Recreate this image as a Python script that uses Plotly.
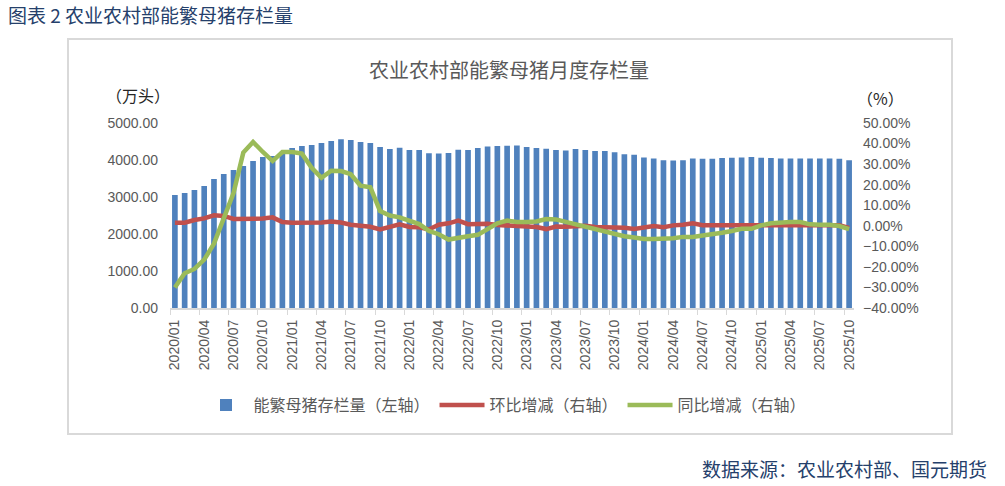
import plotly.graph_objects as go

# month labels 2020/01 .. 2025/10
months = []
for yr in range(2020, 2026):
    for m in range(1, 13):
        if yr == 2025 and m > 10:
            break
        months.append(f"{yr}/{m:02d}")

# 能繁母猪存栏量 (万头)
sows = [3054, 3108, 3189, 3297, 3486, 3622, 3730, 3838, 3973, 4081, 4108, 4161,
        4324, 4378, 4405, 4459, 4513, 4564, 4540, 4486, 4459, 4351, 4297, 4329,
        4270, 4270, 4185, 4177, 4192, 4277, 4270, 4324, 4362, 4379, 4384, 4390,
        4351, 4324, 4305, 4270, 4256, 4296, 4270, 4241, 4240, 4210, 4158, 4142,
        4067, 4042, 3992, 3986, 3996, 4038, 4033, 4036, 4054, 4058, 4067, 4080,
        4062, 4056, 4039, 4038, 4042, 4043, 4042, 4038, 4035, 3990]

# 环比增减 (%)
mom = [1.5, 1.5, 2.8, 3.6, 5.1, 4.8, 3.3, 3.3, 3.8, 3.5, 4.1, 1.8,
       1.5, 1.5, 1.2, 1.6, 2.1, 1.6, 0.5, -0.1, -0.5, -1.8, -0.4, 0.7,
       -0.6, -0.7, -1.8, 0.5, 1.2, 2.5, 0.8, 0.8, 1.0, 0.4, 0.2, 0.2,
       -0.5, -0.6, -1.6, -0.4, -0.5, -0.5, 0.0, -0.6, -0.7, -0.5, -1.0, -1.6,
       -1.0, -0.1, -0.7, 0.2, 0.5, 1.2, 0.3, 0.3, 0.5, 0.7, 0.5, 0.5,
       0.3, 0.2, 0.2, 0.2, 0.3, 0.5, 0.5, 0.5, 0.2, -1.0]

# 同比增减 (%)
yoy = [-30.0, -23.1, -21.0, -16.5, -8.7, 4.4, 15.9, 35.6, 40.8, 35.9, 31.5, 35.9,
       35.9, 35.1, 28.2, 23.3, 26.8, 26.6, 25.1, 19.5, 18.7, 7.2, 5.0, 4.1,
       2.5, 0.8, -2.5, -4.1, -6.7, -5.7, -5.1, -4.4, -1.5, 1.2, 2.5, 1.8,
       1.8, 2.1, 3.3, 3.1, 1.9, 0.8, -0.5, -1.8, -2.9, -4.1, -5.1, -5.7,
       -6.4, -6.4, -6.4, -6.1, -5.4, -5.4, -4.7, -4.2, -3.4, -2.5, -1.5, -1.5,
       0.2, 1.2, 1.7, 1.8, 1.8, 0.7, 0.5, 0.5, -0.1, -1.6]

cjk = "Noto Sans CJK SC"
gray = "#595959"
navy = "#25406b"

W, H = 1005, 486
PX0, PX1, PY0, PY1 = 170, 854, 123, 308   # plot area in pixels


def px(x):
    return (x - PX0) / (PX1 - PX0)


def py(y):
    return (PY1 - y) / (PY1 - PY0)


fig = go.Figure()
fig.add_trace(go.Bar(x=months, y=sows, name="能繁母猪存栏量（左轴）",
                     marker_color="#4f81bd", marker_line_width=0))
fig.add_trace(go.Scatter(x=months, y=mom, name="环比增减（右轴）", yaxis="y2",
                         mode="lines", line=dict(color="#c0504d", width=4.5)))
fig.add_trace(go.Scatter(x=months, y=yoy, name="同比增减（右轴）", yaxis="y2",
                         mode="lines", line=dict(color="#9bbb59", width=4.5)))

fig.update_layout(
    width=W, height=H,
    margin=dict(l=PX0, r=W - PX1, t=PY0, b=H - PY1, pad=0),
    paper_bgcolor="white", plot_bgcolor="white",
    bargap=0.42,
    showlegend=True,
    title=dict(text="图表 2 农业农村部能繁母猪存栏量", xref="container", yref="container",
               x=8 / W, y=1 - 16 / H, xanchor="left", yanchor="middle", pad=dict(l=0, t=0),
               font=dict(family=cjk, size=19, color=navy)),
    xaxis=dict(type="category", range=[-0.5, 69.5], tickangle=-90, dtick=3, tick0=0,
               tickson="boundaries", ticks="outside", ticklen=5, tickcolor="#d9d9d9",
               showline=True, linecolor="#d9d9d9", linewidth=2, showgrid=False,
               ticklabelstandoff=4,
               tickfont=dict(family="Liberation Sans", size=14, color=gray)),
    yaxis=dict(range=[0, 5000], dtick=1000, tickformat=".2f", showgrid=False,
               zeroline=False, ticklabelstandoff=11,
               tickfont=dict(family="Liberation Sans", size=14, color=gray)),
    yaxis2=dict(range=[-40, 50], dtick=10, tickformat=".2f", ticksuffix="%",
                overlaying="y", side="right", showgrid=False, zeroline=False,
                ticklabelstandoff=8,
                tickfont=dict(family="Liberation Sans", size=14, color=gray)),
    legend=dict(orientation="h", x=px(505), xanchor="center", y=py(405), yanchor="middle",
                itemwidth=45, font=dict(family=cjk, size=16, color=gray)),
)

# chart box
fig.add_shape(type="rect", xref="paper", yref="paper",
              x0=px(68), x1=px(952), y0=py(434), y1=py(39),
              line=dict(color="#d9d9d9", width=2), layer="below")

fig.add_annotation(text="农业农村部能繁母猪月度存栏量", xref="paper", yref="paper",
                   x=px(509), y=py(69), xanchor="center", yanchor="middle",
                   showarrow=False, font=dict(family=cjk, size=20, color=gray))
fig.add_annotation(text="（万头）", xref="paper", yref="paper",
                   x=px(104), y=py(95), xanchor="left", yanchor="middle",
                   showarrow=False, font=dict(family=cjk, size=16, color="#262626"))
fig.add_annotation(text="（%）", xref="paper", yref="paper",
                   x=px(855), y=py(98), xanchor="left", yanchor="middle",
                   showarrow=False, font=dict(family=cjk, size=16, color="#262626"))
fig.add_annotation(text="数据来源：农业农村部、国元期货", xref="paper", yref="paper",
                   x=px(989), y=py(468), xanchor="right", yanchor="middle",
                   showarrow=False, font=dict(family=cjk, size=19, color=navy))

# drop the browser's default 8px page margin so the figure sits at 0,0
fig.write_html("out.html", config={"displayModeBar": False},
               post_script="document.body.style.margin = '0';")
